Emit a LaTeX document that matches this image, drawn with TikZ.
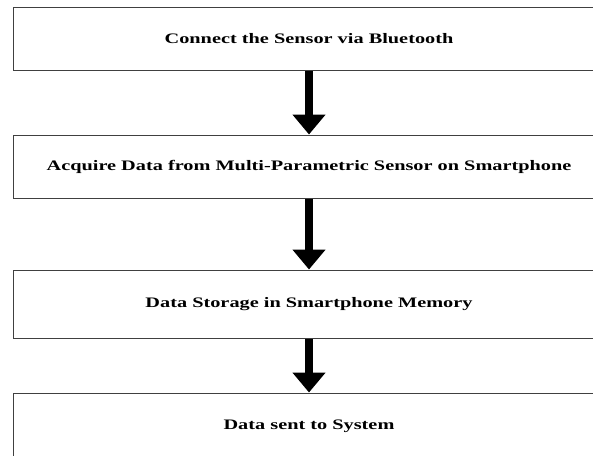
\documentclass[tikz,border=0pt]{standalone}
\usepackage{fontspec}
\setmainfont{Liberation Serif}
\usetikzlibrary{arrows.meta}
\begin{document}
\begin{tikzpicture}[x=1pt,y=-1pt,
  stagebox/.style={draw=black!75, line width=1pt, fill=white, minimum width=591pt,
    inner sep=0pt, font=\bfseries\fontsize{14.5}{16}\selectfont},
  flowarrow/.style={line width=8pt, -{Triangle[width=32pt,length=20pt]}}]
  \useasboundingbox (0,0) rectangle (593,455);
  \node[stagebox, minimum height=62.5pt] (s1) at (309,38.75)
    {\scalebox{1.4}[1]{Connect the Sensor via Bluetooth}};
  \node[stagebox, minimum height=63pt] (s2) at (309,166.5)
    {\scalebox{1.4}[1]{Acquire Data from Multi-Parametric Sensor on Smartphone}};
  \node[stagebox, minimum height=68.5pt] (s3) at (309,304.25)
    {\scalebox{1.4}[1]{Data Storage in Smartphone Memory}};
  \node[stagebox, minimum height=66pt] (s4) at (309,426)
    {\scalebox{1.4}[1]{Data sent to System}};
  \draw[flowarrow] (s1.south) -- (s2.north);
  \draw[flowarrow] (s2.south) -- (s3.north);
  \draw[flowarrow] (s3.south) -- (s4.north);
\end{tikzpicture}
\end{document}
